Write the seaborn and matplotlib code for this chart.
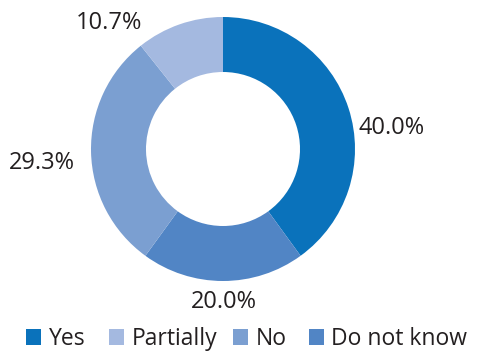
import matplotlib
matplotlib.use("Agg")
import matplotlib.pyplot as plt
from matplotlib.patches import Patch
import seaborn as sns

# Survey answers, drawn clockwise from 12 o'clock
categories = ["Yes", "Do not know", "No", "Partially"]
shares = [40.0, 20.0, 29.3, 10.7]
label_texts = ["40.0%", "20.0%", "29.3%", "10.7%"]
legend_order = ["Yes", "Partially", "No", "Do not know"]

colors = {
    "Yes": "#0a72bb",
    "Partially": "#a4b9e0",
    "No": "#7b9fd1",
    "Do not know": "#5185c5",
}

sns.set_theme(style="white")
plt.rcParams["font.family"] = ["Open Sans", "DejaVu Sans"]
text_color = "#231f20"
font_size = 17

W, H = 479, 354
fig = plt.figure(figsize=(W / 100, H / 100), dpi=100)
ax = fig.add_axes([0, 0, 1, 1])

cx, cy = 223, H - 149
radius = 132
ax.pie(
    shares,
    colors=[colors[c] for c in categories],
    startangle=90,
    counterclock=False,
    radius=radius,
    center=(cx, cy),
    wedgeprops=dict(width=55, edgecolor="none"),
    frame=True,
)
ax.set_xlim(0, W)
ax.set_ylim(0, H)
ax.set_aspect("equal")
ax.axis("off")

# value labels around the ring
label_pos = [(359, H - 125, "left"), (224, H - 299, "center"),
             (75, H - 160, "right"), (142, H - 20, "right")]
for txt, (x, y, ha) in zip(label_texts, label_pos):
    ax.text(x, y, txt, ha=ha, va="center_baseline", fontsize=font_size,
            color=text_color)

# legend entries along the bottom edge, one slot per answer
slot_x = [26, 109, 233, 309]
for name, x in zip(legend_order, slot_x):
    leg = fig.legend(
        [Patch(facecolor=colors[name], edgecolor="none")], [name],
        loc="center left", bbox_to_anchor=(x / W, 1 - 339 / H),
        frameon=False, fontsize=16.5,
        handlelength=0.66, handleheight=0.66, handletextpad=0.32,
        borderpad=0, borderaxespad=0,
    )
    for t in leg.get_texts():
        t.set_color(text_color)

fig.savefig("out.png", dpi=100)
